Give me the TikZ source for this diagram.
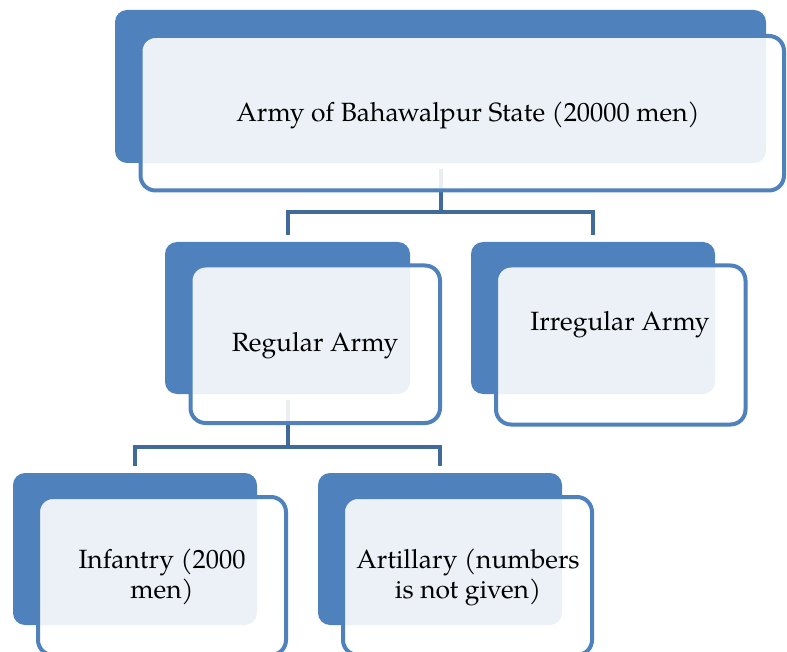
\documentclass[tikz,border=0pt]{standalone}
\usepackage{fontspec}
\setmainfont{TeX Gyre Pagella}
\definecolor{accent}{RGB}{79,129,189}
\definecolor{linkblue}{RGB}{64,106,156}
\tikzset{
  backbox/.style={fill=accent, draw=none, rounded corners=12pt, inner sep=0pt, outer sep=0pt},
  frontbox/.style={draw=accent, line width=4pt, fill=white, fill opacity=0.89, rounded corners=15pt, inner sep=0pt, outer sep=0pt},
  boxtext/.style={align=center, inner sep=0pt, text=black, font=\fontsize{26.4}{30}\selectfont},
  link/.style={draw=linkblue, line width=4pt},
}
\begin{document}
\begin{tikzpicture}[x=1pt, y=-1pt]
  \useasboundingbox (0,0) rectangle (787,652);
  \clip (0,0) rectangle (787,652);

  % back panels
  \node[backbox, anchor=north west, minimum width=651pt, minimum height=153pt] (topB) at (115,10) {};
  \node[backbox, anchor=north west, minimum width=245pt, minimum height=152pt] (regB) at (165,242) {};
  \node[backbox, anchor=north west, minimum width=244pt, minimum height=152pt] (irrB) at (471,242) {};
  \node[backbox, anchor=north west, minimum width=244pt, minimum height=152pt] (infB) at (13,473) {};
  \node[backbox, anchor=north west, minimum width=244pt, minimum height=152pt] (artB) at (318,473) {};

  % connectors
  \coordinate (busTop) at (0,212);
  \coordinate (busMid) at (0,447);
  \draw[link] ([yshift=-6pt]topB.south) -- (topB.south |- busTop) -| ([yshift=7pt]regB.north);
  \draw[link] (topB.south |- busTop) -| ([yshift=7pt]irrB.north);
  \draw[link] ([yshift=-6pt]regB.south) -- (regB.south |- busMid) -| ([yshift=7pt]infB.north);
  \draw[link] (regB.south |- busMid) -| ([yshift=7pt]artB.north);

  % front panels
  \node[frontbox, anchor=north west, minimum width=643.5pt, minimum height=154.5pt] (topF) at (140.5,36) {};
  \node[frontbox, anchor=north west, minimum width=249.5pt, minimum height=157.5pt] (regF) at (190.5,265.5) {};
  \node[frontbox, anchor=north west, minimum width=249.5pt, minimum height=159pt] (irrF) at (496,265.5) {};
  \node[frontbox, anchor=north west, minimum width=248pt, minimum height=158pt] (infF) at (38,497) {};
  \node[frontbox, anchor=north west, minimum width=249pt, minimum height=158pt] (artF) at (343,497) {};

  % captions
  \node[boxtext] (topT) at (468,115) {Army of Bahawalpur State (20000 men)};
  \node[boxtext] (regT) at (315,346) {Regular Army};
  \node[boxtext] (irrT) at (620,325) {Irregular Army};
  \node[boxtext] (infT) at (162,577) {Infantry (2000\\men)};
  \node[boxtext] (artT) at (468,577) {Artillary (numbers\\is not given)};
\end{tikzpicture}
\end{document}
